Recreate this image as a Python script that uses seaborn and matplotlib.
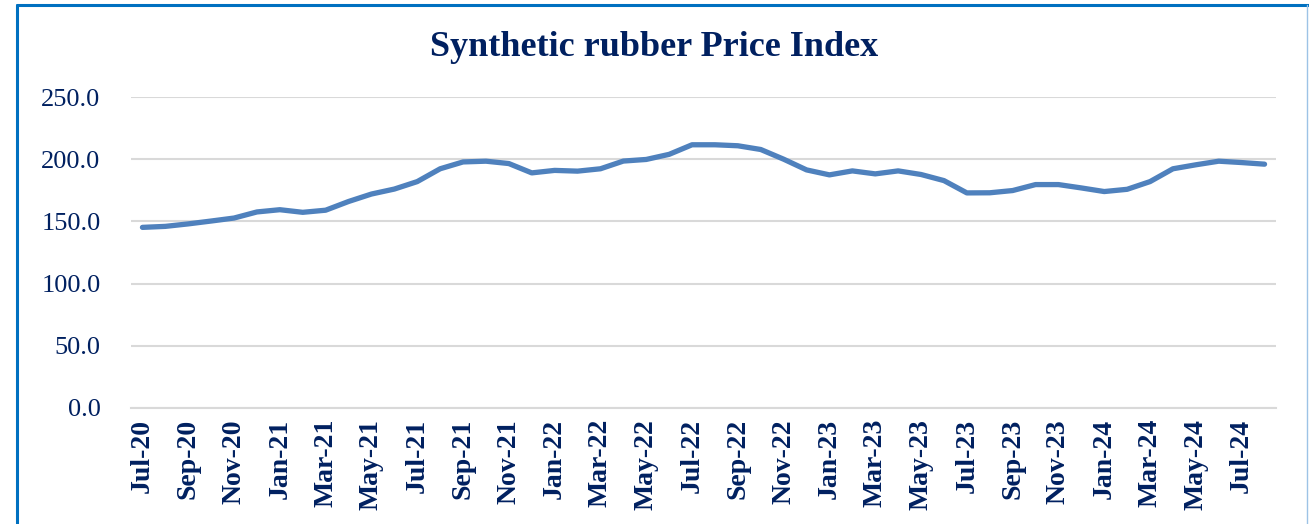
import numpy as np
import pandas as pd
import matplotlib
matplotlib.use('Agg')
import matplotlib.pyplot as plt
from matplotlib.lines import Line2D
import seaborn as sns

# monthly index, Jul-20 .. Aug-24
months = pd.date_range('2020-07-01', periods=50, freq='MS').strftime('%b-%y').tolist()
price_index = [145.2, 146.0, 148.0, 150.3, 152.7, 157.6, 159.4, 157.3, 159.0, 166.0,
               172.0, 176.0, 182.0, 192.3, 197.8, 198.4, 196.5, 189.0, 191.0, 190.4,
               192.3, 198.5, 199.8, 203.9, 211.6, 211.6, 210.8, 207.8, 200.0, 191.4,
               187.4, 190.6, 188.2, 190.6, 187.7, 182.8, 172.9, 173.0, 174.8, 179.6,
               179.6, 176.9, 174.0, 175.8, 182.0, 192.3, 195.5, 198.4, 197.3, 196.0]
y_ticks = [0, 50, 100, 150, 200, 250]

navy = '#002060'

sns.set_style('white')
plt.rcParams['font.family'] = ['Liberation Serif', 'DejaVu Serif']

df = pd.DataFrame({'pos': np.arange(len(months)), 'value': price_index})

fig = plt.figure(figsize=(13.09, 5.24), dpi=100)
ax = fig.add_axes([131 / 1309, 1 - 408 / 524, (1276 - 131) / 1309, (408 - 97) / 524])

sns.lineplot(data=df, x='pos', y='value', ax=ax, color='#4F81BD', linewidth=3.8,
             solid_capstyle='round', solid_joinstyle='round')

ax.set_ylim(0, 250)
ax.set_yticks(y_ticks)
ax.set_yticklabels([f'{v:.1f}' for v in y_ticks], fontsize=19, color=navy)
ax.set_xlim(-0.5, len(months) - 0.5)
ax.set_xticks(df['pos'][::2])
ax.set_xticklabels(months[::2], rotation=90, fontsize=20, fontweight='bold', color=navy)
ax.set_xticks(np.arange(-0.5, len(months), 2), minor=True)
ax.tick_params(axis='x', which='major', length=0, pad=8)
ax.tick_params(axis='x', which='minor', length=6, width=1.5, color='#D9D9D9')
ax.tick_params(axis='y', length=0, pad=22)
ax.set_xlabel('')
ax.set_ylabel('')

ax.yaxis.grid(True, color='#D9D9D9', linewidth=1.5)
ax.set_axisbelow(True)
for side in ['top', 'right', 'left']:
    ax.spines[side].set_visible(False)
ax.spines['bottom'].set_color('#D9D9D9')
ax.spines['bottom'].set_linewidth(1.5)

fig.text(0.5, 1 - 47 / 524, 'Synthetic rubber Price Index', ha='center', va='center',
         fontsize=26, fontweight='bold', color=navy)

# chart frame
fig.add_artist(Line2D([17 / 1309, 17 / 1309], [0, 1 - 5 / 524], color='#0070C0', linewidth=2.2))
fig.add_artist(Line2D([17 / 1309, 1], [1 - 5 / 524, 1 - 5 / 524], color='#0070C0', linewidth=2.2))
fig.add_artist(Line2D([1307 / 1309, 1307 / 1309], [0, 1 - 5 / 524], color='#9DC3E6', linewidth=1))

fig.savefig('out.png', dpi=100)
